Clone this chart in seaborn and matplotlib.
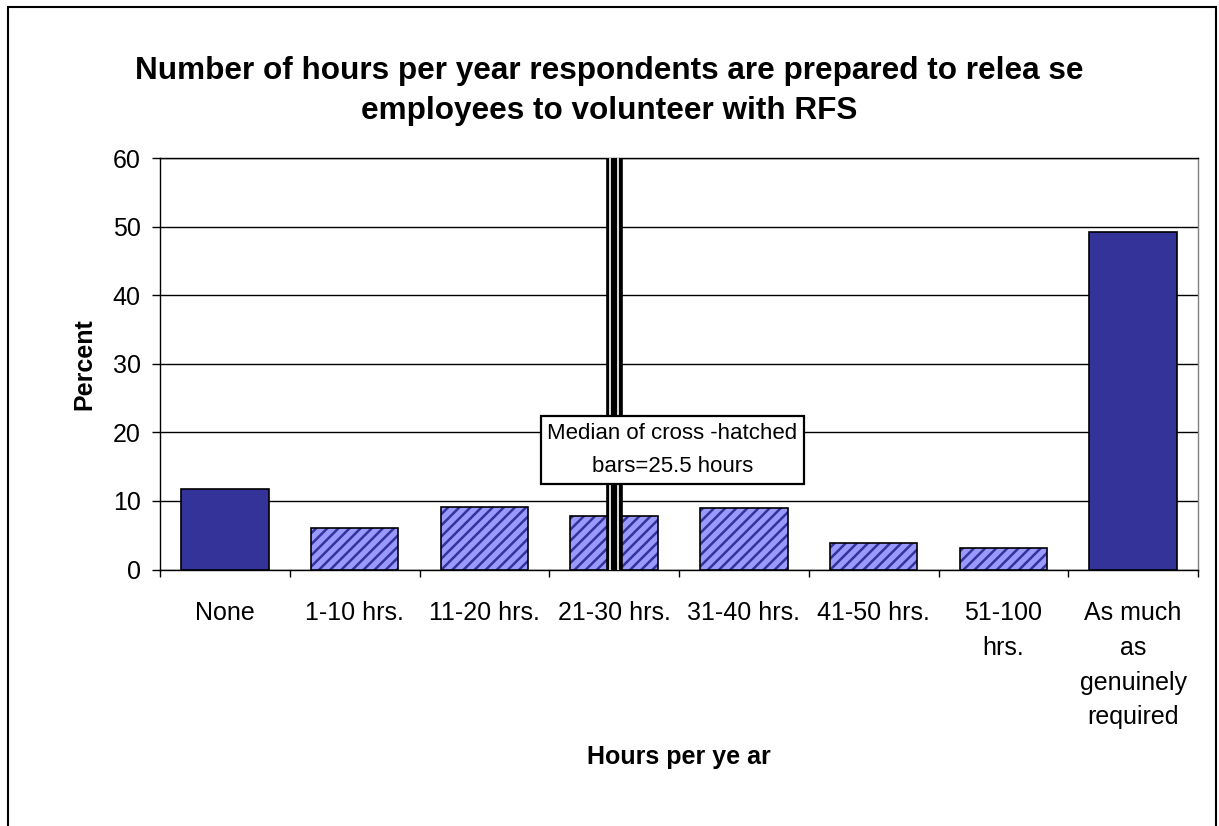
import numpy as np
import pandas as pd
import matplotlib
matplotlib.use("Agg")
import matplotlib.pyplot as plt
import seaborn as sns
from matplotlib.patches import Rectangle

# ---- data ----
categories = ["None", "1-10 hrs.", "11-20 hrs.", "21-30 hrs.", "31-40 hrs.",
              "41-50 hrs.", "51-100\nhrs.", "As much\nas\ngenuinely\nrequired"]
percent = [11.7, 6.0, 9.1, 7.8, 8.9, 3.9, 3.2, 49.2]
hatched = [False, True, True, True, True, True, True, False]
y_ticks = [0, 10, 20, 30, 40, 50, 60]
median_category = "21-30 hrs."
median_label = "Median of cross -hatched\nbars=25.5 hours"
title = "Number of hours per year respondents are prepared to relea se\nemployees to volunteer with RFS"
xlabel = "Hours per ye ar"
ylabel = "Percent"

NAVY = "#333399"
LIGHT = "#9999FF"

sns.set_theme(style="white")
plt.rcParams['font.family'] = ['Liberation Sans', 'DejaVu Sans']
plt.rcParams['hatch.linewidth'] = 1.8
plt.rcParams['text.color'] = 'black'
plt.rcParams['axes.labelcolor'] = 'black'
plt.rcParams['xtick.color'] = 'black'
plt.rcParams['ytick.color'] = 'black'

fig = plt.figure(figsize=(12.19, 8.26), dpi=100)
ax = fig.add_axes([160 / 1219, 1 - 569.5 / 826, 1038 / 1219, 411.5 / 826])

df = pd.DataFrame({"cat": categories, "pct": percent,
                   "kind": ["hatched" if h else "solid" for h in hatched]})
sns.barplot(data=df, x="cat", y="pct", hue="kind", order=categories,
            palette={"solid": NAVY, "hatched": LIGHT}, width=0.675,
            dodge=False, legend=False, ax=ax, edgecolor="black",
            linewidth=1.2, saturation=1, zorder=3)

for p in list(ax.patches):
    idx = int(round(p.get_x() + p.get_width() / 2))
    if 0 <= idx < len(hatched) and hatched[idx]:
        p.set_hatch("///")
        p.set_edgecolor(NAVY)
        p.set_linewidth(0)
        ax.add_patch(Rectangle((p.get_x(), p.get_y()), p.get_width(), p.get_height(),
                               fill=False, edgecolor="black", lw=1.2, zorder=4))

ax.set_xlim(-0.5, len(categories) - 0.5)
ax.set_ylim(y_ticks[0], y_ticks[-1])
ax.set_yticks(y_ticks)
ax.set_xticks(range(len(categories)))
ax.set_xticklabels(categories, fontsize=18, linespacing=1.56)
ax.set_xticks(np.arange(-0.5, len(categories), 1), minor=True)
ax.tick_params(axis="x", which="major", length=0, pad=23)
ax.tick_params(axis="x", which="minor", length=5, width=1, color="black", direction="out", bottom=True)
ax.tick_params(axis="y", which="major", length=6, width=1, color="black", direction="out",
               left=True, pad=8, labelsize=18)
ax.yaxis.grid(True, color="black", lw=1)
ax.xaxis.grid(False)
ax.set_axisbelow(True)
for side in ["left", "bottom", "top"]:
    ax.spines[side].set_color("black")
    ax.spines[side].set_linewidth(1)
ax.spines["right"].set_color("#808080")
ax.spines["right"].set_linewidth(1)

# median line (triple line)
pos = categories.index(median_category)
ax.axvline(pos, color="black", lw=12, zorder=5)
ax.axvline(pos - 0.031, color="#dddddd", lw=1.4, zorder=6)
ax.axvline(pos + 0.031, color="#dddddd", lw=1.4, zorder=6)

ax.text(pos + 0.45, 17.4, median_label, ha="center", va="center", fontsize=16,
        linespacing=1.75, zorder=7,
        bbox=dict(boxstyle="square,pad=0.3", fc="white", ec="black", lw=1.6))

ax.set_xlabel(xlabel, fontsize=18, fontweight="bold")
ax.xaxis.set_label_coords(0.5, -0.427)
ax.set_ylabel(ylabel, fontsize=18, fontweight="bold")
ax.yaxis.set_label_coords(-0.061, 0.5)

fig.text(609 / 1219, 1 - 91 / 826, title, ha="center", va="center",
         fontsize=22.7, fontweight="bold", linespacing=1.45)

fig.add_artist(Rectangle((8 / 1219, -0.05), (1216 - 8) / 1219, (1 - 7 / 826) + 0.05,
                         transform=fig.transFigure, fill=False, ec="black", lw=1.5,
                         clip_on=False))

fig.savefig("out.png", dpi=100)
